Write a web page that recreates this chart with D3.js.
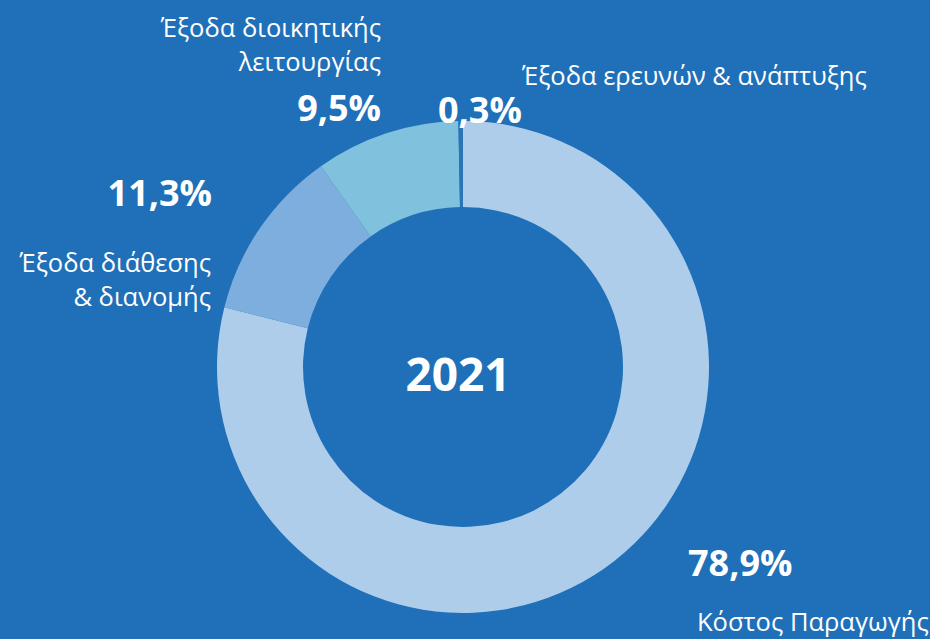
<!DOCTYPE html>
<html>
<head>
<meta charset="utf-8">
<script src="https://cdn.jsdelivr.net/npm/d3@7"></script>
<style>
  html, body { margin: 0; padding: 0; background: #1F70B8; }
  svg { display: block; }
  text { font-family: "Open Sans", sans-serif; fill: #fff; }
</style>
</head>
<body>
<svg id="chart" width="930" height="639"></svg>
<script>
const year = '2021';
const categories = [
  'Κόστος Παραγωγής',
  'Έξοδα διάθεσης & διανομής',
  'Έξοδα διοικητικής λειτουργίας',
  'Έξοδα ερευνών & ανάπτυξης'
];
const values = [78.9, 11.3, 9.5, 0.3];
const valueLabels = ['78,9%', '11,3%', '9,5%', '0,3%'];
const nameLines = [
  ['Κόστος Παραγωγής'],
  ['Έξοδα διάθεσης', '& διανομής'],
  ['Έξοδα διοικητικής', 'λειτουργίας'],
  ['Έξοδα ερευνών & ανάπτυξης']
];
const colors = ['#AECDEA', '#7EAEDD', '#80C2DD', '#2B74B5'];

const width = 930, height = 639;
const cx = 463, cy = 367;
const outerR = 246, innerR = 160;

const svg = d3.select('#chart');

const g = svg.append('g')
  .attr('transform', `translate(${cx},${cy})`);

const pie = d3.pie().sort(null).value(d => d);
const arc = d3.arc().innerRadius(innerR).outerRadius(outerR);

const color = d3.scaleOrdinal().domain(categories).range(colors);

g.selectAll('path.slice')
  .data(pie(values))
  .enter()
  .append('path')
  .attr('class', 'slice')
  .attr('d', arc)
  .attr('fill', (d, i) => color(categories[i]));

// center label
g.append('text')
  .attr('text-anchor', 'middle')
  .attr('x', -5)
  .attr('y', 24)
  .style('font-size', '46px')
  .style('font-weight', 700)
  .text(year);

// label placement (value + name) per slice, hand placed like the original
const place = [
  { vx: 688, vy: 576, anchor: 'start', nx: 697, ny: 631 },
  { vx: 212, vy: 206, anchor: 'end', nx: 211, ny: 272 },
  { vx: 381, vy: 121, anchor: 'end', nx: 381, ny: 37 },
  { vx: 438, vy: 123, anchor: 'start', nx: 522, ny: 85 }
];

const labels = svg.selectAll('g.lbl')
  .data(categories)
  .enter()
  .append('g')
  .attr('class', 'lbl');

labels.append('text')
  .attr('x', (d, i) => place[i].vx)
  .attr('y', (d, i) => place[i].vy)
  .attr('text-anchor', (d, i) => place[i].anchor)
  .style('font-size', '36px')
  .style('font-weight', 700)
  .text((d, i) => valueLabels[i]);

labels.each(function(d, i) {
  const t = d3.select(this).append('text')
    .attr('x', place[i].nx)
    .attr('y', place[i].ny)
    .attr('text-anchor', i == 3 ? 'start' : place[i].anchor)
    .style('font-size', '25.5px');
  nameLines[i].forEach((line, j) => {
    t.append('tspan')
      .attr('x', place[i].nx)
      .attr('dy', j ? 34 : 0)
      .text(line);
  });
});
</script>
</body>
</html>
